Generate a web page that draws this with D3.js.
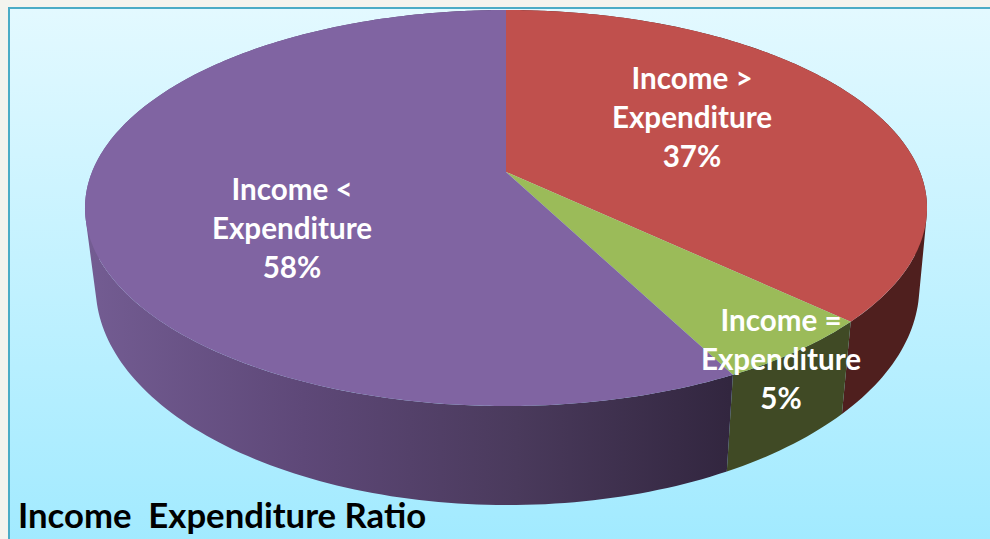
<!DOCTYPE html>
<html><head><meta charset="utf-8">
<script src="https://cdnjs.cloudflare.com/ajax/libs/d3/7.8.5/d3.min.js"></script>
<style>html,body{margin:0;padding:0;background:#f4f4ee;overflow:hidden}svg{display:block}</style>
</head><body><svg id="c" width="990" height="539"></svg>
<script>
const categories = ["Income > Expenditure", "Income = Expenditure", "Income < Expenditure"];
const labelLines = [["Income >","Expenditure"],["Income =","Expenditure"],["Income <","Expenditure"]];
const values = [37, 5.4, 57.6];
const faceColors = ["#c0504d","#9bbb59","#8064a2"];
const sideStops = [["#4f1f1e","#4f1f1e"],["#404a25","#404a25"],["#735c92","#5e4878","#4a3a5c","#32263f"]];
const labelPos = [[692,79],[781,321],[292,190]];
const title = "Income  Expenditure Ratio";

const svg = d3.select("#c");
const defs = svg.append("defs");
const g = defs.append("linearGradient").attr("id","bg").attr("x1",0).attr("y1",0).attr("x2",0).attr("y2",1);
g.append("stop").attr("offset",0).attr("stop-color","#e3f9ff");
g.append("stop").attr("offset",1).attr("stop-color","#a1eaff");
svg.append("rect").attr("x",9).attr("y",8).attr("width",990).attr("height",540)
  .attr("fill","url(#bg)").attr("stroke","#4bacc6").attr("stroke-width",2);

// Projected disc: unit circle -> screen via a perspective mapping
const top0 = {cx:506,k:414,a:160.2,b:172,c:-0.1818};
const bot0 = {cx:507.5,k:406,a:170.5,b:249.7,c:-0.168};
const project = (p,t)=>{const u=Math.sin(t),v=-Math.cos(t),d=1+p.c*v;return [p.cx+p.k*u/d,(p.a*v+p.b)/d];};
const arcs = d3.pie().sort(null).value(d=>d)(values);
const line = d3.line();
const samples = (a0,a1,step)=>{const n=Math.max(2,Math.ceil((a1-a0)/step));return d3.range(n+1).map(i=>a0+(a1-a0)*i/n);};

// Side wall: one path per slice, shaded left to right across the drum
arcs.forEach((s,i)=>{
  const gr = defs.append("linearGradient").attr("id","side"+i).attr("gradientUnits","userSpaceOnUse")
    .attr("x1",90).attr("y1",0).attr("x2",730).attr("y2",0);
  sideStops[i].forEach((c,j,a)=>gr.append("stop").attr("offset",j/(a.length-1)).attr("stop-color",c));
  const ts = samples(s.startAngle,s.endAngle,0.02);
  const d = d3.pairs(ts).map(([t0,t1])=>{
    const q=[project(top0,t0),project(top0,t1),project(bot0,t1),project(bot0,t0)];
    if(d3.polygonArea(q)<0) q.reverse();
    return line(q)+"Z";
  }).join("");
  svg.append("path").attr("d",d).attr("fill","url(#side"+i+")").attr("fill-rule","nonzero");
});
// Top face
const faceG = svg.append("g");
arcs.forEach((s,i)=>{
  const pts = [[top0.cx,top0.b]].concat(samples(s.startAngle,s.endAngle,0.01).map(t=>project(top0,t)));
  faceG.append("path").attr("d",line(pts)+"Z").attr("fill",faceColors[i]);
});
// Labels
const lab = svg.append("g").attr("font-family","Lato, sans-serif").attr("font-weight",700).attr("font-size",29.6).attr("fill","#fff").attr("text-anchor","middle");
arcs.forEach((s,i)=>{
  const [x,y]=labelPos[i];
  labelLines[i].concat([Math.round(values[i])+"%"]).forEach((t,j)=>{
    lab.append("text").attr("x",x).attr("y",y+j*39).attr("dy","0.35em").text(t);
  });
});
svg.append("text").attr("x",18).attr("y",528).attr("font-family","Lato, sans-serif").attr("font-weight",700).attr("font-size",34.7).attr("fill","#000").style("white-space","pre").text(title);
</script></body></html>
